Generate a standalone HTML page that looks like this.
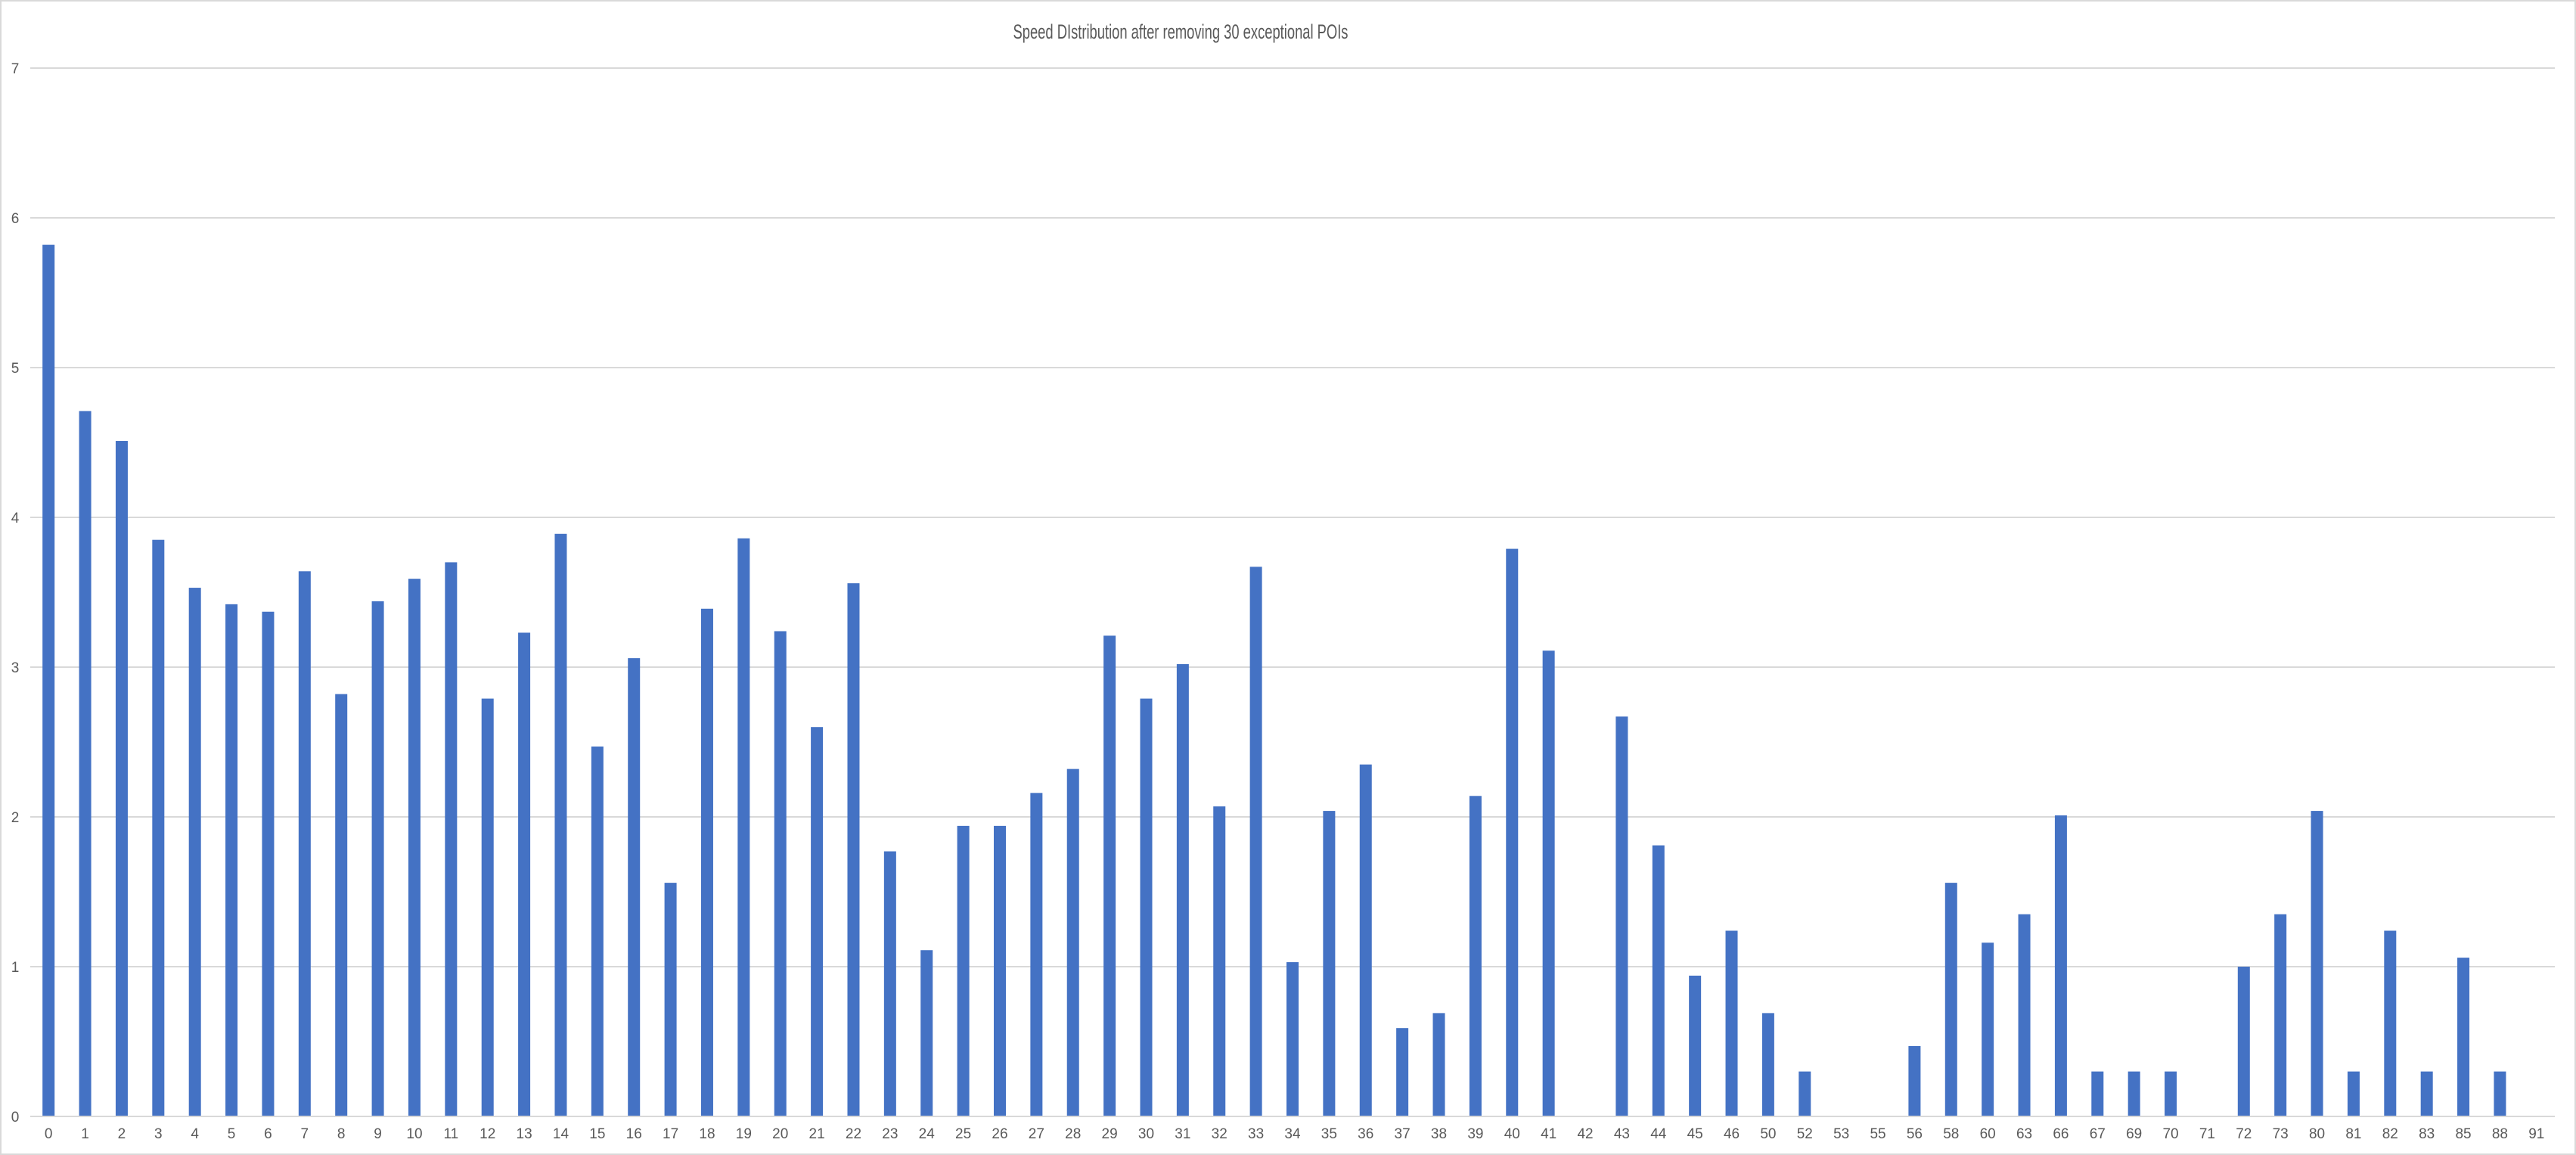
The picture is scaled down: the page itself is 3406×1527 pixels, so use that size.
<!DOCTYPE html>
<html><head><meta charset="utf-8"><style>
html,body{margin:0;padding:0;background:#fff;}
svg{display:block;font-family:"Liberation Sans",sans-serif;}
</style></head><body>
<svg id="chart" width="3406" height="1527" viewBox="0 0 3406 1527" xmlns="http://www.w3.org/2000/svg">
<rect x="1" y="1" width="3404" height="1525" fill="#fff" stroke="#d9d9d9" stroke-width="2"/>
<text x="1561" y="51" font-size="27" fill="#595959" text-anchor="middle" textLength="443" lengthAdjust="spacingAndGlyphs">Speed DIstribution after removing 30 exceptional POIs</text>
<g id="grid"></g>
<g id="bars"></g>
<g id="xlabels"></g>
<g id="ylabels"></g>
</svg>
<script>
const categories = ["0","1","2","3","4","5","6","7","8","9","10","11","12","13","14","15","16","17","18","19","20","21","22","23","24","25","26","27","28","29","30","31","32","33","34","35","36","37","38","39","40","41","42","43","44","45","46","50","52","53","55","56","58","60","63","66","67","69","70","71","72","73","80","81","82","83","85","88","91"];
const values = [5.82,4.71,4.51,3.85,3.53,3.42,3.37,3.64,2.82,3.44,3.59,3.70,2.79,3.23,3.89,2.47,3.06,1.56,3.39,3.86,3.24,2.60,3.56,1.77,1.11,1.94,1.94,2.16,2.32,3.21,2.79,3.02,2.07,3.67,1.03,2.04,2.35,0.59,0.69,2.14,3.79,3.11,0,2.67,1.81,0.94,1.24,0.69,0.30,0,0,0.47,1.56,1.16,1.35,2.01,0.30,0.30,0.30,0,1.00,1.35,2.04,0.30,1.24,0.30,1.06,0.30,0];
const yTicks = [0,1,2,3,4,5,6,7];

const NS = "http://www.w3.org/2000/svg";
const left = 40, right = 3378, y0 = 1476, yTop = 90, yMax = 7;
const step = (right - left) / categories.length;
const barW = 16;
function xScale(i){ return left + (i + 0.5) * step; }
function yScale(v){ return y0 - (v / yMax) * (y0 - yTop); }
function mk(tag, attrs){ const e = document.createElementNS(NS, tag); for (const k in attrs) e.setAttribute(k, attrs[k]); return e; }

const grid = document.getElementById('grid');
const ylab = document.getElementById('ylabels');
yTicks.forEach(t => {
  const y = yScale(t);
  const l = mk('line', {x1:left, x2:right, y1:y, y2:y, stroke:'#d9d9d9', 'stroke-width':2});
  
  
  grid.appendChild(l);
  const tx = mk('text', {x:20, y:y+7, 'font-size':19, fill:'#595959', 'text-anchor':'middle'});
  tx.textContent = t;
  
  
  ylab.appendChild(tx);
});

const bars = document.getElementById('bars');
const xlab = document.getElementById('xlabels');
categories.forEach((c, i) => {
  const v = values[i];
  const cx = xScale(i);
  if (v > 0) {
    const r = mk('rect', {x:cx - barW/2, y:yScale(v), width:barW, height:y0 - 1 - yScale(v), fill:'#4472c4'});
    
    
    bars.appendChild(r);
  }
  const t = mk('text', {x:cx, y:1505, 'font-size':19, fill:'#595959', 'text-anchor':'middle'});
  t.textContent = c;
  
  
  xlab.appendChild(t);
});
</script>
</body></html>
